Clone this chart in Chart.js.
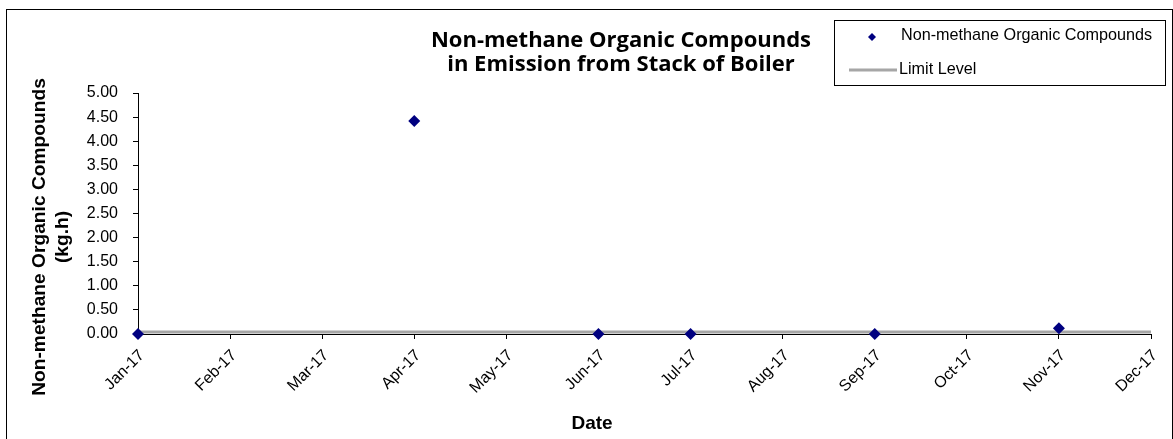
<!DOCTYPE html>
<html>
<head>
<meta charset="utf-8">
<script src="https://cdn.jsdelivr.net/npm/chart.js@4/dist/chart.umd.min.js"></script>
<style>
  html, body { margin: 0; padding: 0; background: #ffffff; }
  #wrap { width: 1173px; height: 439px; position: relative; }
</style>
</head>
<body>
<div id="wrap"><canvas id="c" width="1173" height="439"></canvas></div>
<script>
// ---- Data ----
const months = ['Jan-17','Feb-17','Mar-17','Apr-17','May-17','Jun-17','Jul-17','Aug-17','Sep-17','Oct-17','Nov-17','Dec-17'];
const nmocValues = [0.00, null, null, 4.42, null, 0.00, 0.00, null, 0.00, null, 0.12, null];
const limitValues = [0.04, 0.04, 0.04, 0.04, 0.04, 0.04, 0.04, 0.04, 0.04, 0.04, 0.04, 0.04];
const yTicks = [0, 0.5, 1, 1.5, 2, 2.5, 3, 3.5, 4, 4.5, 5];
const seriesNames = ['Non-methane Organic Compounds', 'Limit Level'];
const titleLines = ['Non-methane Organic Compounds', 'in Emission from Stack of Boiler'];
const yTitleLines = ['Non-methane Organic Compounds', '(kg.h)'];
const xTitle = 'Date';

const NAVY = '#000080';
const GREY = '#a6a6a6';
const ARIAL = '"Liberation Sans", Arial, sans-serif';

const decorPlugin = {
  id: 'decor',
  afterDraw(chart) {
    const ctx = chart.ctx;
    ctx.save();
    // outer frame
    ctx.strokeStyle = '#000000';
    ctx.lineWidth = 1;
    ctx.strokeRect(6.5, 9.5, 1166, 440);

    // title
    ctx.fillStyle = '#000000';
    ctx.font = 'bold 22px "Open Sans", sans-serif';
    ctx.textAlign = 'center';
    ctx.textBaseline = 'middle';
    ctx.fillText(titleLines[0], 621, 41);
    ctx.fillText(titleLines[1], 621, 65);

    // y title
    ctx.font = 'bold 19.2px ' + ARIAL;
    ctx.save();
    ctx.translate(40, 237);
    ctx.rotate(-Math.PI / 2);
    ctx.fillText(yTitleLines[0], 0, 0);
    ctx.restore();
    ctx.save();
    ctx.translate(63, 237);
    ctx.rotate(-Math.PI / 2);
    ctx.fillText(yTitleLines[1], 0, 0);
    ctx.restore();

    // x title
    ctx.font = 'bold 19px ' + ARIAL;
    ctx.fillText(xTitle, 592, 424);

    // legend
    ctx.fillStyle = '#ffffff';
    ctx.fillRect(834.5, 20.5, 331, 65);
    ctx.strokeStyle = '#000000';
    ctx.lineWidth = 1;
    ctx.strokeRect(834.5, 20.5, 331, 65);
    const ds = chart.data.datasets;
    // entry 1 marker
    ctx.fillStyle = NAVY;
    ctx.beginPath();
    ctx.moveTo(872, 33);
    ctx.lineTo(876, 37);
    ctx.lineTo(872, 41);
    ctx.lineTo(868, 37);
    ctx.closePath();
    ctx.fill();
    // entry 2 line
    ctx.strokeStyle = GREY;
    ctx.lineWidth = 3;
    ctx.beginPath();
    ctx.moveTo(849, 70);
    ctx.lineTo(897, 70);
    ctx.stroke();
    ctx.fillStyle = '#000000';
    ctx.font = '16.2px ' + ARIAL;
    ctx.textAlign = 'left';
    ctx.fillText(ds[0].label, 901, 36);
    ctx.fillText(ds[1].label, 899, 70);
    ctx.restore();
  }
};

new Chart(document.getElementById('c'), {
  type: 'line',
  data: {
    labels: months,
    datasets: [
      {
        label: seriesNames[0],
        data: nmocValues,
        showLine: false,
        pointStyle: 'rectRot',
        pointRadius: 6,
        pointHoverRadius: 6,
        backgroundColor: NAVY,
        borderColor: NAVY,
        pointBorderWidth: 0,
        clip: false,
        order: 0
      },
      {
        label: seriesNames[1],
        data: limitValues,
        borderColor: GREY,
        borderWidth: 3,
        pointRadius: 0,
        fill: false,
        clip: false,
        order: 1
      }
    ]
  },
  options: {
    responsive: false,
    animation: false,
    events: [],
    layout: { padding: { top: 93, right: 22, bottom: 0, left: 0 } },
    plugins: {
      legend: { display: false },
      title: { display: false },
      tooltip: { enabled: false }
    },
    scales: {
      x: {
        type: 'category',
        offset: false,
        afterFit(scale) { scale.height = 105; },
        grid: { display: true, drawOnChartArea: false, drawTicks: true, tickLength: 5, color: '#000000' },
        border: { display: true, color: '#000000', width: 1 },
        ticks: {
          autoSkip: false,
          minRotation: 45,
          maxRotation: 45,
          padding: 7,
          labelOffset: 4,
          color: '#000000',
          font: { family: ARIAL, size: 16 }
        }
      },
      y: {
        min: 0,
        max: 5,
        afterFit(scale) { scale.width = 138; },
        afterBuildTicks(scale) { scale.ticks = yTicks.map(v => ({ value: v })); },
        grid: { display: true, drawOnChartArea: false, drawTicks: true, tickLength: 5, color: '#000000' },
        border: { display: true, color: '#000000', width: 1 },
        ticks: {
          padding: 15,
          color: '#000000',
          font: { family: ARIAL, size: 16 },
          callback: (v) => Number(v).toFixed(2)
        }
      }
    }
  },
  plugins: [decorPlugin]
});
</script>
</body>
</html>
